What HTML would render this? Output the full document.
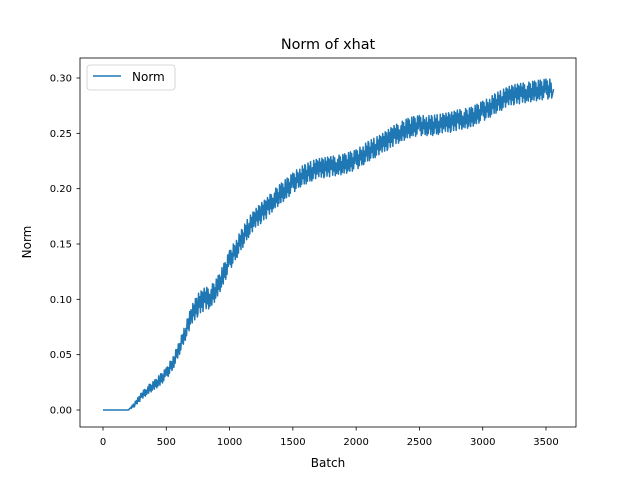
<!DOCTYPE html>
<html><head><meta charset="utf-8"><style>
body{margin:0;background:#fff;}
text{font-family:"DejaVu Sans","Liberation Sans",sans-serif;fill:#000;}
</style></head><body>
<svg id="chart" width="640" height="480" xmlns="http://www.w3.org/2000/svg">
<rect width="640" height="480" fill="#fff"/>
<text x="328" y="49" font-size="14.4" text-anchor="middle">Norm of xhat</text>
<g id="plot"></g>
<rect x="80" y="58" width="496" height="369" fill="none" stroke="#000" stroke-width="0.8"/>
<text x="328" y="467" font-size="12" text-anchor="middle">Batch</text>
<text x="31" y="242" font-size="12" text-anchor="middle" transform="rotate(-90 31 242)">Norm</text>
<g>
<rect x="87" y="65" width="88" height="25" rx="3" fill="#fff" stroke="#ccc" stroke-width="0.8"/>
<line x1="93" y1="76" x2="121" y2="76" stroke="#1f77b4" stroke-width="1.5"/>
<text x="132" y="81" font-size="12">Norm</text>
</g>
</svg>
<script>
const xTicks=[0,500,1000,1500,2000,2500,3000,3500];
const yTicks=[0,0.05,0.10,0.15,0.20,0.25,0.30];
const yTickLabels=["0.00","0.05","0.10","0.15","0.20","0.25","0.30"];
const batchStep=50;
const centers=[0,0,0,0,0,0.005,0.012,0.018,0.022,0.027,0.033,0.042,0.055,0.07,0.085,0.095,0.1,0.102,0.11,0.122,0.135,0.145,0.155,0.165,0.172,0.178,0.183,0.19,0.195,0.2,0.205,0.21,0.213,0.216,0.218,0.219,0.22,0.221,0.222,0.224,0.226,0.23,0.234,0.237,0.24,0.244,0.248,0.251,0.254,0.256,0.257,0.257,0.257,0.258,0.259,0.26,0.262,0.263,0.264,0.267,0.27,0.273,0.277,0.28,0.283,0.285,0.286,0.287,0.288,0.289,0.29,0.29];
const amps=[0,0,0,0,0,0.002,0.003,0.004,0.004,0.005,0.005,0.006,0.006,0.007,0.009,0.01,0.01,0.01,0.009,0.009,0.009,0.009,0.009,0.009,0.009,0.009,0.009,0.009,0.009,0.009,0.009,0.009,0.009,0.009,0.009,0.009,0.009,0.009,0.009,0.009,0.009,0.009,0.009,0.009,0.009,0.009,0.009,0.009,0.009,0.009,0.009,0.009,0.009,0.009,0.009,0.009,0.009,0.009,0.009,0.009,0.009,0.009,0.009,0.009,0.009,0.009,0.009,0.009,0.009,0.009,0.009,0.009];
const NS="http://www.w3.org/2000/svg";
const xs=v=>103+v*(443/3500);
const ys=v=>410-v*(332/0.30);
const g=document.getElementById('plot');
function mk(t,a){const e=document.createElementNS(NS,t);for(const k in a)e.setAttribute(k,a[k]);return e;}
xTicks.forEach(t=>{
 const l=mk('line',{x1:xs(t),x2:xs(t),y1:427,y2:430.5,stroke:'#000','stroke-width':0.8});
 
 
 g.appendChild(l);
 const tx=mk('text',{x:xs(t),y:445,'font-size':10,'text-anchor':'middle'});tx.textContent=t;
 
 
 g.appendChild(tx);
});
yTicks.forEach((t,i)=>{
 const l=mk('line',{x1:76.5,x2:80,y1:ys(t),y2:ys(t),stroke:'#000','stroke-width':0.8});
 
 
 g.appendChild(l);
 const tx=mk('text',{x:72,y:ys(t)+3.5,'font-size':10,'text-anchor':'end'});tx.textContent=yTickLabels[i];
 
 
 g.appendChild(tx);
});
let d='';const sub=10;
const pat=[1,-0.5,0.8,-1,0.3,-0.8,1,-0.3,0.6,-0.9];
for(let i=0;i<centers.length-1;i++){
 for(let k=0;k<sub;k++){
  const f=k/sub;
  const b=(i+f)*batchStep;
  const c=centers[i]+(centers[i+1]-centers[i])*f;
  const a=amps[i]+(amps[i+1]-amps[i])*f;
  const v=c+a*pat[(k+i)%pat.length];
  d+=(d?'L':'M')+xs(b).toFixed(2)+','+ys(v).toFixed(2);
 }
}
d+='L'+xs(3560).toFixed(2)+','+ys(centers[centers.length-1]).toFixed(2);
const p=mk('path',{d:d,fill:'none',stroke:'#1f77b4','stroke-width':1.5,'stroke-linejoin':'round'});


g.appendChild(p);
</script>
</body></html>
